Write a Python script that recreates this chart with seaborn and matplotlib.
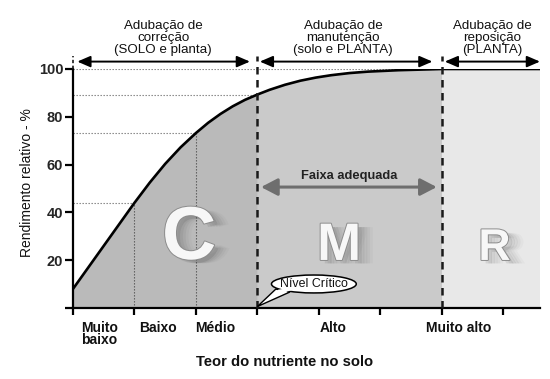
import numpy as np
import matplotlib
matplotlib.use("Agg")
import matplotlib.pyplot as plt
import matplotlib.patheffects as pe
from matplotlib.patches import Ellipse, Polygon
import seaborn as sns

# Relative yield curve (Teor do nutriente no solo x Rendimento relativo)
curve_x = [0, 0.25, 0.5, 0.75, 1, 1.25, 1.5, 1.75, 2, 2.2, 2.4, 2.6, 2.8, 3,
           3.2, 3.45, 3.7, 3.95, 4.2, 4.5, 4.8, 5.3, 5.8, 6, 7.6]
curve_y = [8, 17, 26, 35, 44, 52.5, 60.3, 67.2, 73.2, 77.5, 81.2, 84.4, 87.1, 89.3,
           91.3, 93.4, 95.1, 96.4, 97.4, 98.3, 98.9, 99.5, 99.85, 100, 100]

# Soil nutrient classes
class_bounds = [0, 1, 2, 3, 6, 7.6]
class_labels = ["Muito\nbaixo", "Baixo", "Médio", "Alto", "Muito alto"]

# Fertilisation zones
zone_bounds = [0, 3, 6, 7.6]
zone_letters = ["C", "M", "R"]
zone_titles = ["Adubação de\ncorreção\n(SOLO e planta)",
               "Adubação de\nmanutenção\n(solo e PLANTA)",
               "Adubação de\nreposição\n(PLANTA)"]

y_ticks = [0, 20, 40, 60, 80, 100]
y_ticklabels = ["", "20", "40", "60", "80", "100"]

sns.set_theme(style="white")
plt.rcParams["font.family"] = ["Liberation Sans", "DejaVu Sans"]

W, H = 550, 379
fig = plt.figure(figsize=(W / 100, H / 100), dpi=100)
ax = fig.add_axes([73 / W, (H - 308) / H, (540 - 73) / W, (308 - 69) / H])
ax.set_xlim(0, 7.6)
ax.set_ylim(0, 100)

cx = np.array(curve_x)
cy = np.array(curve_y)

# zone fills
zone_colors = ["#bababa", "#cacaca", "#e8e8e8"]
mC = cx <= zone_bounds[1]
mM = (cx >= zone_bounds[1]) & (cx <= zone_bounds[2])
ax.fill_between(cx[mC], 0, cy[mC], color=zone_colors[0], lw=0, zorder=1)
ax.fill_between(cx[mM], 0, cy[mM], color=zone_colors[1], lw=0, zorder=1)
ax.fill_between([zone_bounds[2], zone_bounds[3]], 0, 100, color=zone_colors[2], lw=0, zorder=1)

# guide lines at class boundaries
dot_kw = dict(color="#7a7a7a", lw=0.8, ls=(0, (1.2, 1.5)), zorder=2)
ax.plot([0, zone_bounds[2]], [100, 100], **dot_kw)
for b in class_bounds[1:4]:
    yv = np.interp(b, cx, cy)
    ax.plot([0, b], [yv, yv], **dot_kw)
    if b < zone_bounds[1]:
        ax.plot([b, b], [0, yv], color="#555555", lw=0.8, ls=(0, (1.2, 1.5)), zorder=2)

# response curve
sns.lineplot(x=curve_x, y=curve_y, ax=ax, color="black", lw=1.9, zorder=5,
             estimator=None, sort=False)

# zone separators
for b in zone_bounds[1:3]:
    ax.plot([b, b], [0, 105.5], color="#1a1a1a", lw=1.8, ls=(0, (3, 2.2)),
            clip_on=False, zorder=6)
ax.plot([0, 0], [100, 105.5], color="#1a1a1a", lw=1.2, ls=(0, (2, 1.5)),
        clip_on=False, zorder=6)

# zone arrows above the plot
arrow_kw = dict(arrowstyle="<|-|>,head_length=0.65,head_width=0.28",
                color="black", lw=1.4, shrinkA=0, shrinkB=0)
spans = [(0.07, 2.88), (3.04, 5.85), (6.05, 7.6)]
for (a, b) in spans:
    ax.annotate("", xy=(b, 103.1), xytext=(a, 103.1), arrowprops=arrow_kw,
                annotation_clip=False, zorder=7)

title_x = [163, 343, 492]
for t, px in zip(zone_titles, title_x):
    fig.text(px / W, 1 - 37.5 / H, t, ha="center", va="center",
             multialignment="center", fontsize=9.6, linespacing=1.0,
             color="#111111")

# adequate range arrow
ax.annotate("", xy=(5.92, 50.6), xytext=(3.06, 50.6),
            arrowprops=dict(arrowstyle="<|-|>,head_length=0.5,head_width=0.26",
                            color="#6e6e6e", lw=2.2, shrinkA=0, shrinkB=0,
                            mutation_scale=20),
            zorder=7)
ax.text(4.5, 54, "Faixa adequada", ha="center", va="baseline",
        fontsize=9.3, fontweight="bold", color="#222222", zorder=7)

# zone letters (white embossed face with a soft shadow trailing right)
letter_pos = [(1.89, 20.5, 54), (4.33, 20.1, 38), (6.86, 20.1, 32)]
for letter, (lx, ly, fs) in zip(zone_letters, letter_pos):
    shadows = [pe.SimplePatchShadow(offset=(o, -2.5), shadow_rgbFace="#2a2a2a", alpha=a)
               for o, a in ((3, 0.10), (5, 0.07), (7, 0.05), (9, 0.04), (11, 0.03))]
    ax.text(lx, ly, letter, ha="center", va="baseline", fontsize=fs,
            fontweight="bold", color="#f7f7f7", zorder=4,
            path_effects=shadows + [pe.Stroke(linewidth=1.4, foreground="#8c8c8c"),
                                    pe.Normal()])

# critical level callout
ecx, ecy, ew, eh = 3.92, 10.05, 1.38, 7.5
tip = np.array([3.0, 0.6])
b1 = np.array([3.3, 7.9])
b2 = np.array([3.53, 6.7])
ax.add_patch(Polygon([tip, b1, b2], closed=True, fc="white", ec="black", lw=1.0, zorder=8))
ax.add_patch(Ellipse((ecx, ecy), ew, eh, fc="white", ec="black", lw=1.1, zorder=9))
b1i = b1 + 0.18 * (b2 - b1)
b2i = b2 + 0.18 * (b1 - b2)
ctr = np.array([ecx, ecy])
cover = [tip + 0.75 * (b1i - tip), b1i, b1i + 0.35 * (ctr - b1i),
         b2i + 0.35 * (ctr - b2i), b2i, tip + 0.75 * (b2i - tip)]
ax.add_patch(Polygon(cover, closed=True, fc="white", ec="none", zorder=10))
ax.text(ecx, ecy, "Nível Crítico", ha="center", va="center", fontsize=8.9,
        color="#111111", zorder=11)

# axes styling
for s in ["top", "right"]:
    ax.spines[s].set_visible(False)
for s in ["left", "bottom"]:
    ax.spines[s].set_color("black")
    ax.spines[s].set_linewidth(1.6)
ax.set_xticks(range(0, 8))
ax.set_xticklabels([])
ax.set_yticks(y_ticks)
ax.set_yticklabels(y_ticklabels, fontsize=10.5, fontweight="bold")
ax.tick_params(axis="x", direction="out", length=5, width=1.6, color="black", bottom=True)
ax.tick_params(axis="y", direction="out", length=5.5, width=1.6, color="black", left=True, pad=1.5)
ax.set_xlabel("")
ax.set_ylabel("")

label_x = [(0.13, "left"), (1.38, "center"), (2.31, "center"), (4.24, "center"), (6.28, "center")]
for lab, (lx, ha) in zip(class_labels, label_x):
    ax.annotate(lab, xy=(lx, 0), xycoords=("data", "axes fraction"),
                xytext=(0, -9.4), textcoords="offset points", ha=ha, va="top",
                multialignment="left", fontsize=10, fontweight="bold",
                linespacing=0.85, color="#111111", annotation_clip=False)

fig.text(285 / W, 1 - 366.5 / H, "Teor do nutriente no solo", ha="center",
         va="baseline", fontsize=10.6, fontweight="bold", color="#111111")
fig.text(27 / W, 1 - 182.5 / H, "Rendimento relativo - %", ha="center",
         va="center", rotation=90, fontsize=10, color="#111111")

fig.savefig("out.png", dpi=100)
